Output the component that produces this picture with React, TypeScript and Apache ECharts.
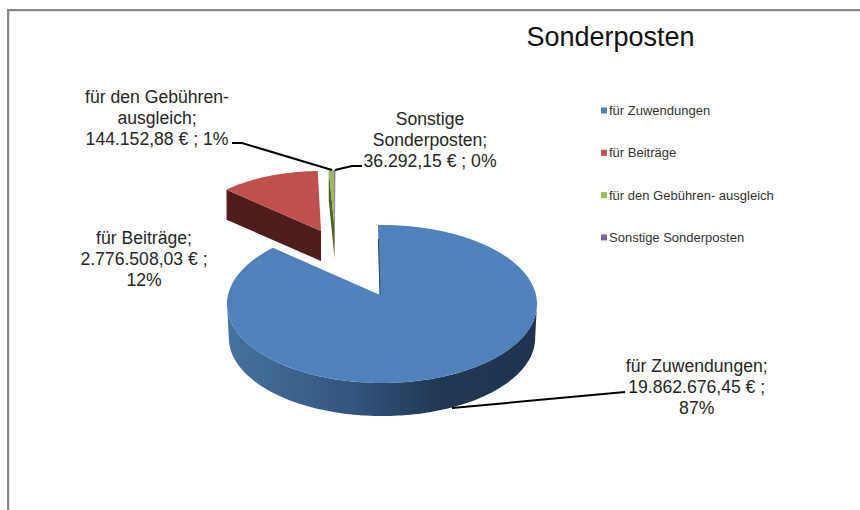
import React, { useEffect, useRef } from "react";
import * as echarts from "echarts";

const titleText = "Sonderposten";
const categories = ["für Zuwendungen", "für Beiträge", "für den Gebühren- ausgleich", "Sonstige Sonderposten"];
const values = [19862676.45, 2776508.03, 144152.88, 36292.15];
const colors = ["#4F81BD", "#C0504D", "#9BBB59", "#8064A2"];
const wallColors = ["#1F3350", "#4F1D1B", "#4F6128", "#8064A2"];
const labelTexts = [
  "für Zuwendungen;\n19.862.676,45 € ;\n87%",
  "für Beiträge;\n2.776.508,03 € ;\n12%",
  "für den Gebühren-\nausgleich;\n144.152,88 € ; 1%",
  "Sonstige\nSonderposten;\n36.292,15 € ; 0%",
];

const FONT = "'Liberation Sans', Arial, sans-serif";
const total = values.reduce((a, b) => a + b, 0);
const ANGLE_STRETCH = 1.011;

// Projection of each (exploded) slice of the tilted pie.
const slices = [
  { apex: [380, 295], c: [382, 304], rx: 155, ry: 79, depth: 34, rot: -1.5 },
  { apex: [321, 231], c: [321, 233], rx: 132, ry: 62, depth: 30, rot: -2.5 },
  { apex: [334.5, 228], c: [332, 228], rx: 132, ry: 58, depth: 30, rot: -2.5 },
  { apex: [335, 228], c: [332, 228], rx: 132, ry: 58, depth: 30, rot: -2.5 },
];

const toAngle = (v: number, rot: number) => (v / total) * 360 * ANGLE_STRETCH + rot;

function arc(g: any, from: number, to: number, dy = 0, shrink = 1) {
  const pts: number[][] = [];
  const n = Math.max(2, Math.ceil(Math.abs(to - from) / 1.5));
  for (let i = 0; i <= n; i++) {
    const a = ((from + ((to - from) * i) / n) * Math.PI) / 180;
    pts.push([g.c[0] + g.rx * shrink * Math.sin(a), g.c[1] - g.ry * shrink * Math.cos(a) + dy]);
  }
  return pts;
}

function makeRender(idx: number) {
  return () => {
    const g = slices[idx];
    const before = values.slice(0, idx).reduce((a, b) => a + b, 0);
    const a0 = toAngle(before, g.rot);
    const a1 = toAngle(before + values[idx], g.rot);
    const top = arc(g, a0, a1);
    const children: any[] = [];
    if (idx === 0) {
      const frontTop = arc(g, 90, 270);
      const frontBottom = arc(g, 270, 90, g.depth, 0.988);
      children.push({
        type: "polygon",
        shape: { points: [...frontTop, ...frontBottom] },
        style: {
          fill: new echarts.graphic.LinearGradient(0, 0, 1, 0, [
            { offset: 0, color: "#47739F" },
            { offset: 0.4, color: "#33557F" },
            { offset: 0.68, color: "#213853" },
            { offset: 1, color: "#1F334E" },
          ]),
        },
      });
    } else {
      const s = top[0];
      children.push({
        type: "polygon",
        shape: {
          points: [s, g.apex, [g.apex[0], g.apex[1] + g.depth], [s[0], s[1] + g.depth]],
        },
        style: { fill: wallColors[idx] },
      });
    }
    children.push({
      type: "polygon",
      shape: { points: [g.apex, ...top] },
      style: { fill: colors[idx] },
    });
    if (idx === 0) {
      children.push({
        type: "line",
        shape: { x1: top[0][0] + 0.5, y1: top[0][1] + 14, x2: g.apex[0], y2: g.apex[1] },
        style: { stroke: "#24405F", lineWidth: 1 },
      });
    }
    return { type: "group", children };
  };
}

const label = (i: number, x: number, y: number) => ({
  type: "text",
  x,
  y,
  style: {
    text: labelTexts[i],
    align: "center",
    verticalAlign: "middle",
    font: `17.6px ${FONT}`,
    lineHeight: 21,
    fill: "#262626",
  },
});

const leader = (points: number[][]) => ({
  type: "polyline",
  shape: { points },
  style: { stroke: "#000", lineWidth: 2, fill: "none" },
});

export default function App() {
  const ref = useRef<HTMLDivElement>(null);
  useEffect(() => {
    const chart = echarts.init(ref.current!, null, { renderer: "svg" });
    chart.setOption({
      animation: false,
      backgroundColor: "#fff",
      title: {
        text: titleText,
        left: 605.5,
        top: 18,
        textAlign: "center",
        textStyle: { fontFamily: FONT, fontSize: 27, fontWeight: "normal", color: "#111" },
      },
      legend: {
        orient: "vertical",
        left: 601,
        top: 104,
        padding: 0,
        itemWidth: 6,
        itemHeight: 6,
        itemGap: 29.3,
        icon: "rect",
        data: categories,
        textStyle: { fontFamily: FONT, fontSize: 13, color: "#333", padding: [0, 0, 0, -3] },
        selectedMode: false,
      },
      series: categories.map((name, i) => ({
        type: "custom",
        name,
        coordinateSystem: "none",
        silent: true,
        itemStyle: { color: colors[i] },
        renderItem: makeRender(i),
        data: [{ name, value: values[i] }],
        z: 2 + i,
      })),
      graphic: [
        { type: "rect", shape: { x: 9, y: 11, width: 851, height: 1 }, style: { fill: "#e4e4e4" }, z: 1 },
        { type: "rect", shape: { x: 9, y: 11, width: 1, height: 499 }, style: { fill: "#e4e4e4" }, z: 1 },
        { type: "rect", shape: { x: 7, y: 9, width: 853, height: 2 }, style: { fill: "#868686" }, z: 1 },
        { type: "rect", shape: { x: 7, y: 9, width: 2, height: 501 }, style: { fill: "#868686" }, z: 1 },
        { ...leader([[452, 408], [625, 392]]), z: 10 },
        { ...leader([[232, 143], [242, 143], [332, 170]]), z: 10 },
        { ...leader([[335, 170], [352, 166], [362, 166]]), z: 10 },
        { ...label(0, 696.7, 387), z: 10 },
        { ...label(1, 144, 259), z: 10 },
        { ...label(2, 157, 118), z: 10 },
        { ...label(3, 430, 140), z: 10 },
      ],
    });
    return () => chart.dispose();
  }, []);
  return <div ref={ref} style={{ position: "absolute", left: 0, top: 0, width: 860, height: 510 }} />;
}
